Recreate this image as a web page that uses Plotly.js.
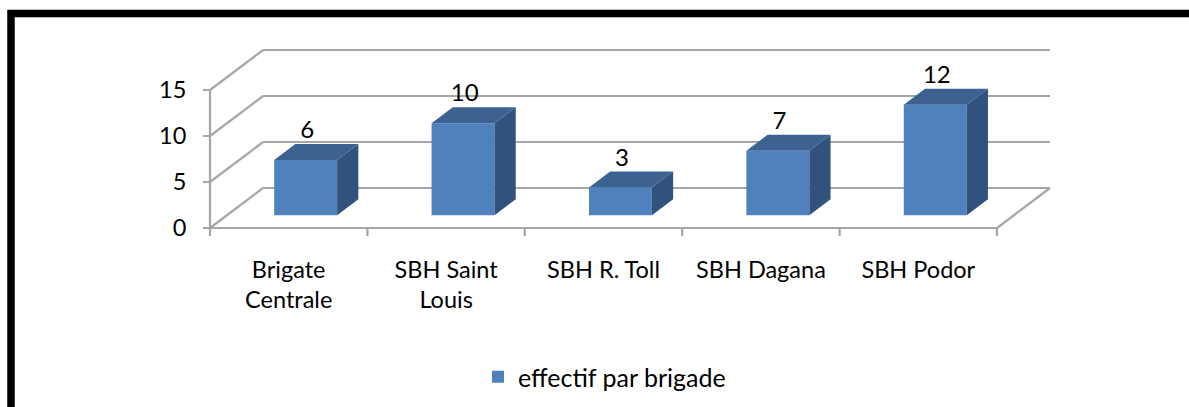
<!DOCTYPE html>
<html>
<head>
<meta charset="utf-8">
<script src="https://cdn.plot.ly/plotly-3.0.1.min.js"></script>
<style>
  html, body { margin: 0; padding: 0; background: #ffffff; }
  #chart { width: 1189px; height: 407px; }
</style>
</head>
<body>
<div id="chart"></div>
<script>
// ---------- data ----------
const categories = ["Brigate\nCentrale", "SBH Saint\nLouis", "SBH R. Toll", "SBH Dagana", "SBH Podor"];
const values = [6, 10, 3, 7, 12];
const yTickValues = [0, 5, 10, 15];
const seriesName = "effectif par brigade";

// ---------- geometry (pixels of the 1189x407 canvas) ----------
const W = 1189, H = 407;
const PX_PER_CAT = 157.4;      // pixels per category
const PX_PER_UNIT = 9.2;       // pixels per value unit
const FRONT_LEFT_PX = 210;     // pixel x of the front-left corner (x = -0.5)
const FRONT_ZERO_PX = 228;     // pixel y of the value 0 on the front plane
const DEPTH_X_PX = 53, DEPTH_Y_PX = 40;   // oblique depth of the floor
const DX = DEPTH_X_PX / PX_PER_CAT;       // depth in x units
const DY = DEPTH_Y_PX / PX_PER_UNIT;      // depth in value units
const F0 = 0.32, F1 = 0.72;               // bar front / back depth fraction
const BAR_W = 0.40;
const X_RANGE = [-1.0, 5.0];
const Y_RANGE = [-1.0, 20.0];

const FRONT = "#4F81BD", TOP = "#3C6292", SIDE = "#31527D";
const GRID = "#A6A6A6";
const FONT = "Lato, 'Noto Sans', sans-serif";

// axis domains from the pixel geometry
const xPx0 = FRONT_LEFT_PX + (X_RANGE[0] + 0.5) * PX_PER_CAT;
const xPx1 = FRONT_LEFT_PX + (X_RANGE[1] + 0.5) * PX_PER_CAT;
const yPxBottom = FRONT_ZERO_PX - Y_RANGE[0] * PX_PER_UNIT;
const yPxTop = FRONT_ZERO_PX - Y_RANGE[1] * PX_PER_UNIT;

const idx = categories.map((c, i) => i);
const shiftX = F0 * DX, baseY = F0 * DY;
const bdx = (F1 - F0) * DX, bdy = (F1 - F0) * DY;

// ---------- traces ----------
const frontTrace = {
  type: "bar", name: seriesName,
  x: idx.map(i => i + shiftX), y: values, base: values.map(() => baseY),
  width: BAR_W, marker: { color: FRONT, line: { width: 0 } },
  hoverinfo: "skip", showlegend: true
};

const sx = [], sy = [], tx = [], ty = [];
values.forEach((v, i) => {
  const xl = i + shiftX - BAR_W / 2, xr = i + shiftX + BAR_W / 2;
  const yb = baseY, yt = baseY + v;
  // side face
  sx.push(xr, xr + bdx, xr + bdx, xr, xr, null);
  sy.push(yb, yb + bdy, yt + bdy, yt, yb, null);
  // top face
  tx.push(xl, xr, xr + bdx, xl + bdx, xl, null);
  ty.push(yt, yt, yt + bdy, yt + bdy, yt, null);
});
const sideTrace = { type: "scatter", mode: "lines", x: sx, y: sy, fill: "toself",
  fillcolor: SIDE, line: { width: 0, color: SIDE }, hoverinfo: "skip", showlegend: false };
const topTrace = { type: "scatter", mode: "lines", x: tx, y: ty, fill: "toself",
  fillcolor: TOP, line: { width: 0, color: TOP }, hoverinfo: "skip", showlegend: false };

const labelTrace = {
  type: "scatter", mode: "text",
  x: idx.map(i => i + shiftX + 0.01),
  y: values.map(v => baseY + v + bdy),
  text: values.map(String), textposition: "top center",
  textfont: { family: FONT, size: 24, color: "#000000" },
  hoverinfo: "skip", showlegend: false, cliponaxis: false
};

// ---------- 3D frame (walls + floor) ----------
const shapes = [];
const gl = (x0, y0, x1, y1) => shapes.push({ type: "line", xref: "x", yref: "y", layer: "below",
  x0, y0, x1, y1, line: { color: GRID, width: 2.2 } });
const xMin = -0.5, xMax = categories.length - 0.5;
yTickValues.forEach(v => {
  gl(xMin + DX, v + DY, xMax + DX, v + DY);   // back wall
  gl(xMin, v, xMin + DX, v + DY);             // side wall
});
gl(xMin, 0, xMax, 0);                                   // front floor edge
gl(xMax, 0, xMax + DX, DY);                             // right floor edge
gl(xMin, 0, xMin, yTickValues[yTickValues.length - 1]); // front value axis
for (let k = 0; k <= categories.length; k++) {          // category tick marks
  shapes.push({ type: "line", xref: "x", yref: "y", layer: "below",
    x0: xMin + k, x1: xMin + k, y0: 0, y1: -8 / PX_PER_UNIT,
    line: { color: GRID, width: 2.2 } });
}
// black page frame
shapes.push({ type: "rect", xref: "paper", yref: "paper", layer: "above",
  x0: 11 / W, x1: 1.05, y0: -0.1, y1: 1 - 13.5 / H,
  line: { color: "#000000", width: 7.5 }, fillcolor: "rgba(0,0,0,0)" });

const layout = {
  width: W, height: H,
  margin: { l: 0, r: 0, t: 0, b: 0 },
  paper_bgcolor: "#ffffff", plot_bgcolor: "rgba(0,0,0,0)",
  showlegend: true,
  xaxis: {
    domain: [xPx0 / W, xPx1 / W], range: X_RANGE,
    anchor: "free", position: (H - FRONT_ZERO_PX) / H,
    showline: false, showgrid: false, zeroline: false, ticks: "",
    tickmode: "array", tickvals: idx,
    ticktext: categories.map(c => c.replace("\n", "<br>")),
    tickfont: { family: FONT, size: 23.5, color: "#000000" },
    ticklabelstandoff: 25, fixedrange: true
  },
  yaxis: {
    domain: [(H - yPxBottom) / H, (H - yPxTop) / H], range: Y_RANGE,
    anchor: "free", position: FRONT_LEFT_PX / W,
    showline: false, showgrid: false, zeroline: false,
    ticks: "outside", ticklen: 7, tickwidth: 2, tickcolor: GRID,
    tickmode: "array", tickvals: yTickValues,
    tickfont: { family: FONT, size: 23.5, color: "#000000" },
    ticklabelstandoff: 12, fixedrange: true
  },
  legend: {
    x: 478 / W, xanchor: "left", y: (H - 377) / H, yanchor: "middle",
    orientation: "h", font: { family: FONT, size: 25, color: "#000000" },
    bgcolor: "rgba(0,0,0,0)"
  },
  shapes: shapes
};

Plotly.newPlot("chart", [frontTrace, sideTrace, topTrace, labelTrace], layout,
  { displayModeBar: false, staticPlot: true });
</script>
</body>
</html>
